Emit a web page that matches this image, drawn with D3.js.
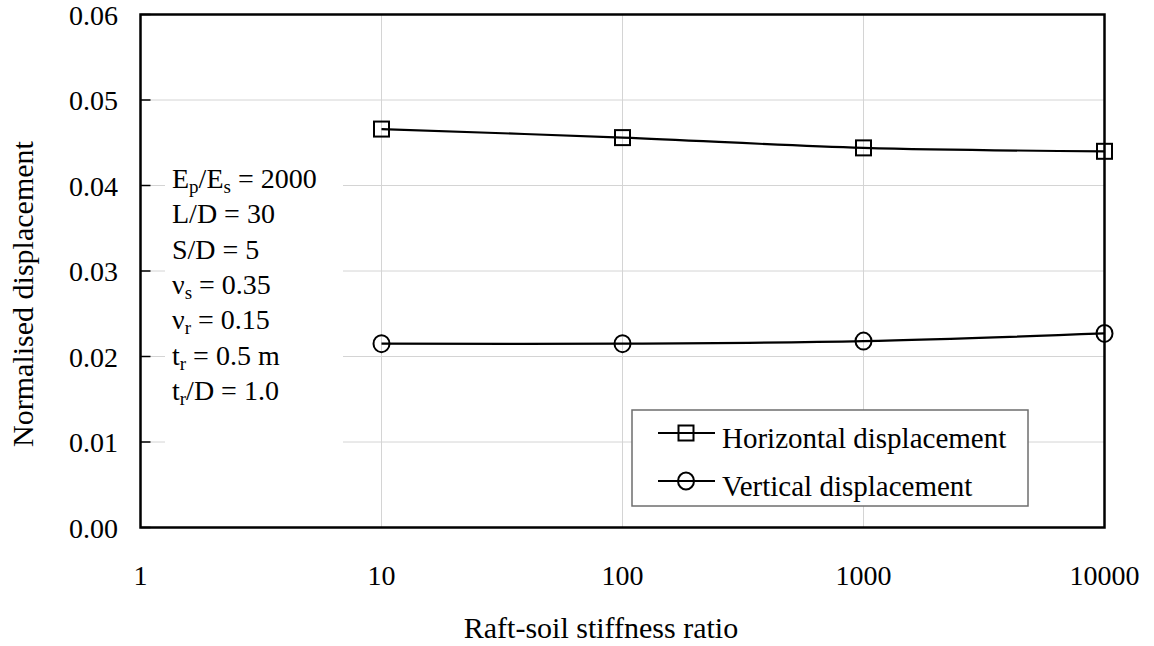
<!DOCTYPE html>
<html><head><meta charset="utf-8">
<script src="https://cdn.jsdelivr.net/npm/d3@7"></script>
<style>
html,body{margin:0;padding:0;background:#fff;}
svg{display:block;font-family:"Liberation Serif","Times New Roman",serif;}
</style></head>
<body><svg id="c" width="1154" height="646"></svg>
<script>
const stiffness = [10, 100, 1000, 10000];
const horizontal = [0.0466, 0.0456, 0.0444, 0.0440];
const vertical = [0.0215, 0.0215, 0.0218, 0.0227];
const xTicks = [1, 10, 100, 1000, 10000];
const yTicks = [0, 0.01, 0.02, 0.03, 0.04, 0.05, 0.06];
const seriesNames = ["Horizontal displacement", "Vertical displacement"];
const params = [
  [["E"],["p","sub"],["/E"],["s","sub"],[" = 2000"]],
  [["L/D = 30"]],
  [["S/D = 5"]],
  [["ν"],["s","sub"],[" = 0.35"]],
  [["ν"],["r","sub"],[" = 0.15"]],
  [["t"],["r","sub"],[" = 0.5 m"]],
  [["t"],["r","sub"],["/D = 1.0"]]
];

const svg = d3.select("#c");
const L = 140.5, R = 1104.5, T = 14.5, B = 527.5;
const x = d3.scaleLog().domain([1, 10000]).range([L, R]);
const y = d3.scaleLinear().domain([0, 0.06]).range([B, T]);

// gridlines
svg.append("g").selectAll("line").data(yTicks.slice(1)).join("line")
  .attr("x1", L).attr("x2", R).attr("y1", d => y(d)).attr("y2", d => y(d))
  .attr("stroke", "#d4d4d4").attr("stroke-width", 1);
svg.append("g").selectAll("line").data(xTicks.slice(1)).join("line")
  .attr("x1", d => x(d)).attr("x2", d => x(d)).attr("y1", T).attr("y2", B)
  .attr("stroke", "#d4d4d4").attr("stroke-width", 1);

// annotation background
svg.append("rect").attr("x", 165).attr("y", 150).attr("width", 178).attr("height", 295).attr("fill", "#fff");

// inner ticks on left axis
svg.append("g").selectAll("line").data(yTicks).join("line")
  .attr("x1", L).attr("x2", L + 10).attr("y1", d => y(d)).attr("y2", d => y(d))
  .attr("stroke", "#000").attr("stroke-width", 1.5);

// axis frame
svg.append("rect").attr("x", L).attr("y", T).attr("width", R - L).attr("height", B - T)
  .attr("fill", "none").attr("stroke", "#000").attr("stroke-width", 2.5);

// tick labels
svg.append("g").selectAll("text").data(yTicks).join("text")
  .attr("x", 118).attr("y", d => y(d)).attr("dy", "0.37em").attr("text-anchor", "end")
  .attr("font-size", 28).text(d => d3.format(".2f")(d));
svg.append("g").selectAll("text").data(xTicks).join("text")
  .attr("x", d => x(d)).attr("y", 585).attr("text-anchor", "middle")
  .attr("font-size", 28).text(d => d3.format("d")(d));

// axis titles
svg.append("text").attr("x", 601).attr("y", 638).attr("text-anchor", "middle")
  .attr("font-size", 30).text("Raft-soil stiffness ratio");
svg.append("text").attr("transform", `translate(33,294) rotate(-90)`)
  .attr("text-anchor", "middle").attr("font-size", 30).text("Normalised displacement");

// lines
const line = d3.line().x((d, i) => x(stiffness[i])).y(d => y(d)).curve(d3.curveCatmullRom.alpha(0.5));
[horizontal, vertical].forEach(s => {
  svg.append("path").attr("d", line(s)).attr("fill", "none").attr("stroke", "#000").attr("stroke-width", 2.2);
});
// markers
svg.append("g").selectAll("rect").data(horizontal).join("rect")
  .attr("x", (d, i) => x(stiffness[i]) - 7.5).attr("y", d => y(d) - 7.5)
  .attr("width", 15).attr("height", 15).attr("fill", "none").attr("stroke", "#000").attr("stroke-width", 2);
svg.append("g").selectAll("ellipse").data(vertical).join("ellipse")
  .attr("cx", (d, i) => x(stiffness[i])).attr("cy", d => y(d)).attr("rx", 8).attr("ry", 8.5)
  .attr("fill", "none").attr("stroke", "#000").attr("stroke-width", 2);

// annotation text
const ann = svg.append("g");
params.forEach((parts, i) => {
  const t = ann.append("text").attr("x", 172).attr("y", 188 + i * 35.3).attr("font-size", 28);
  let inSub = false;
  parts.forEach(p => {
    const ts = t.append("tspan").text(p[0]);
    if (p[1] === "sub") { ts.attr("font-size", 19).attr("dy", inSub ? 0 : 5); inSub = true; }
    else if (inSub) { ts.attr("dy", -5); inSub = false; }
  });
});

// legend
svg.append("rect").attr("x", 632).attr("y", 410).attr("width", 396).attr("height", 96)
  .attr("fill", "#fff").attr("stroke", "#6e6e6e").attr("stroke-width", 1.5);
const rows = [433, 481];
rows.forEach((ry, i) => {
  svg.append("line").attr("x1", 658).attr("x2", 715).attr("y1", ry).attr("y2", ry)
    .attr("stroke", "#000").attr("stroke-width", 2.2);
  if (i === 0) {
    svg.append("rect").attr("x", 686 - 7.5).attr("y", ry - 7.5).attr("width", 15).attr("height", 15)
      .attr("fill", "none").attr("stroke", "#000").attr("stroke-width", 2);
  } else {
    svg.append("ellipse").attr("cx", 686).attr("cy", ry).attr("rx", 8).attr("ry", 8.5)
      .attr("fill", "none").attr("stroke", "#000").attr("stroke-width", 2);
  }
  svg.append("text").attr("x", 722).attr("y", ry + 15).attr("font-size", 29).text(seriesNames[i]);
});
</script></body></html>
